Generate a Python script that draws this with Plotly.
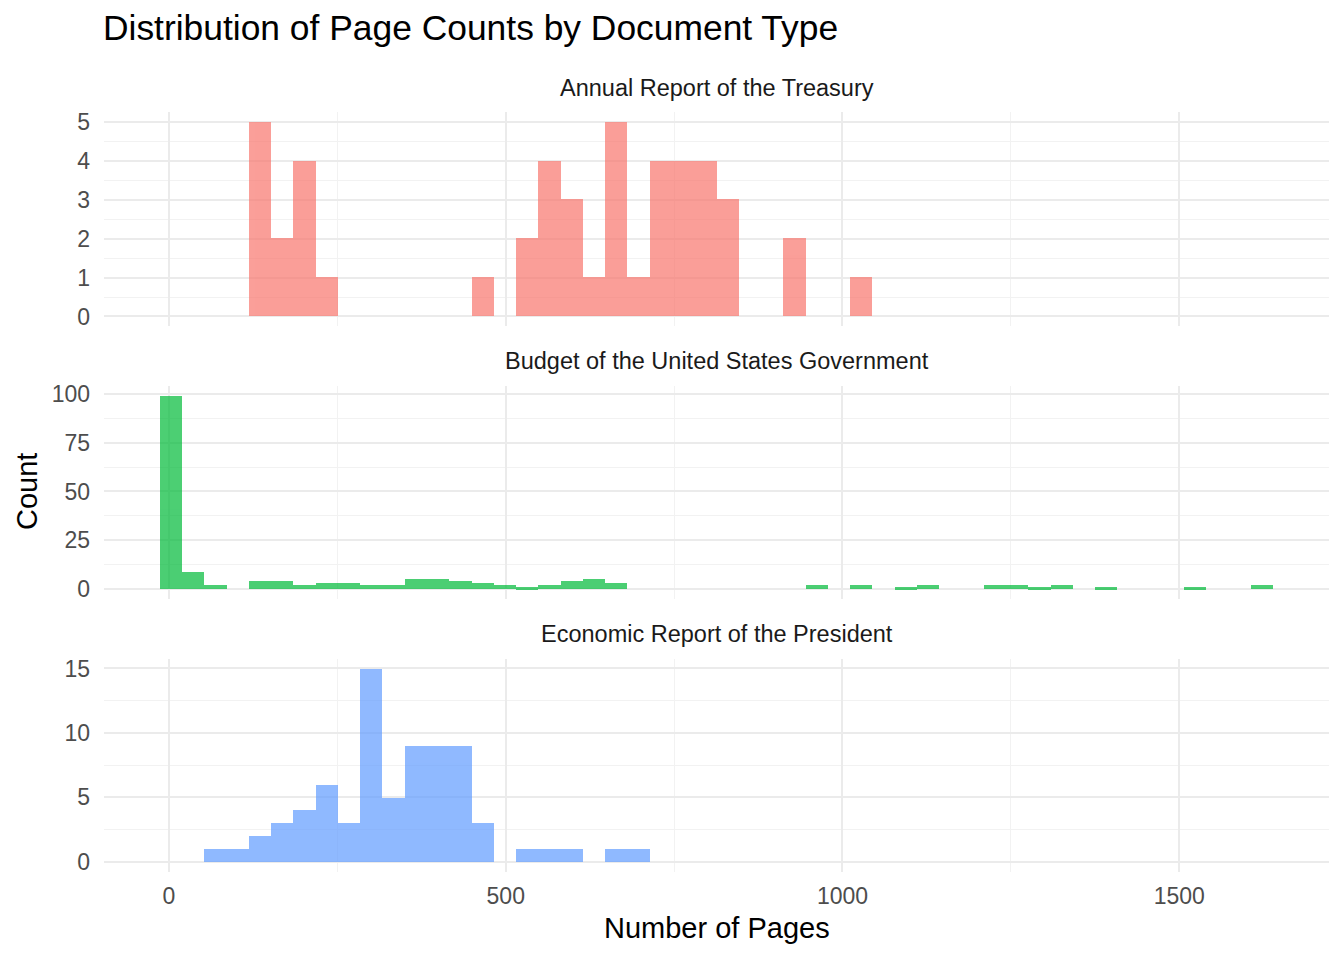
import plotly.graph_objects as go

# ---- data (histogram counts per bin) ----
doc_types = ["Annual Report of the Treasury",
             "Budget of the United States Government",
             "Economic Report of the President"]
bin_start = -13.8      # left edge of the first bin (pages)
bin_width = 33.07      # bin width (pages)

treasury_counts = [0, 0, 0, 0, 5, 2, 4, 1, 0, 0,
                   0, 0, 0, 0, 1, 0, 2, 4, 3, 1,
                   5, 1, 4, 4, 4, 3, 0, 0, 2, 0,
                   0, 1, 0, 0, 0, 0, 0, 0, 0, 0,
                   0, 0, 0, 0, 0, 0, 0, 0, 0, 0]
budget_counts = [99, 9, 2, 0, 4, 4, 2, 3, 3, 2,
                 2, 5, 5, 4, 3, 2, 1, 2, 4, 5,
                 3, 0, 0, 0, 0, 0, 0, 0, 0, 2,
                 0, 2, 0, 1, 2, 0, 0, 2, 2, 1,
                 2, 0, 1, 0, 0, 0, 1, 0, 0, 2]
economic_counts = [0, 0, 1, 1, 2, 3, 4, 6, 3, 15,
                   5, 9, 9, 9, 3, 0, 1, 1, 1, 0,
                   1, 1, 0, 0, 0, 0, 0, 0, 0, 0,
                   0, 0, 0, 0, 0, 0, 0, 0, 0, 0,
                   0, 0, 0, 0, 0, 0, 0, 0, 0, 0]

x_ticks = [0, 500, 1000, 1500]
y_dticks = [1, 25, 5]
colors = ["#F8766D", "#00BA38", "#619CFF"]

all_counts = [treasury_counts, budget_counts, economic_counts]

# ---- layout geometry (page pixels; the page body adds an 8px offset) ----
W, H = 1344, 960
OFF = 8
FONT = "Liberation Sans"
px_left, px_right = 104 - OFF, 1329 - OFF
panels_px = [(108.2 - OFF, 323.8 - OFF),
             (384.2 - OFF, 598.8 - OFF),
             (659.25 - OFF, 873.75 - OFF)]
strip_px = [87, 362, 637]
x_range = [-96.5, 1722.4]


def fy(p):
    return 1 - p / H


fig = go.Figure()

for i, (name, counts, col) in enumerate(zip(doc_types, all_counts, colors)):
    centers = [bin_start + bin_width * (k + 0.5) for k in range(len(counts))]
    ax = "" if i == 0 else str(i + 1)
    fig.add_trace(go.Bar(
        x=centers, y=counts, width=bin_width,
        marker=dict(color=col, line=dict(width=0)),
        opacity=0.7, name=name, showlegend=False,
        xaxis="x" + ax, yaxis="y" + ax,
        hovertemplate=name + "<br>Pages: %{x:.0f}<br>Count: %{y}<extra></extra>",
    ))

layout_axes = {}
annotations = []
for i, (name, counts) in enumerate(zip(doc_types, all_counts)):
    top, bot = panels_px[i]
    ymax = max(counts)
    pad = ymax * 0.05
    ax = "" if i == 0 else str(i + 1)
    layout_axes["xaxis" + ax] = dict(
        domain=[px_left / W, px_right / W], range=x_range,
        anchor="y" + ax, tickmode="array", tickvals=x_ticks,
        ticktext=[str(v) for v in x_ticks],
        showticklabels=(i == 2),
        showgrid=True, gridcolor="#EBEBEB", gridwidth=2.2,
        minor=dict(showgrid=True, gridcolor="#F2F2F2", gridwidth=1.2,
                   tickmode="array", tickvals=[250, 750, 1250]),
        zeroline=False, showline=False, ticks="",
        tickfont=dict(family=FONT, size=23, color="#4D4D4D"),
        ticklabelstandoff=8,
    )
    layout_axes["yaxis" + ax] = dict(
        domain=[fy(bot), fy(top)], range=[-pad, ymax + pad], anchor="x" + ax,
        tick0=0, dtick=y_dticks[i],
        showgrid=True, gridcolor="#EBEBEB", gridwidth=2.2,
        minor=dict(showgrid=True, gridcolor="#F2F2F2", gridwidth=1.2,
                   tick0=y_dticks[i] / 2, dtick=y_dticks[i]),
        zeroline=False, showline=False, ticks="",
        tickfont=dict(family=FONT, size=23, color="#4D4D4D"),
        ticklabelstandoff=13,
    )
    annotations.append(dict(
        text=name, xref="paper", yref="paper",
        x=(px_left + px_right) / 2 / W, y=fy(strip_px[i] - OFF - 3),
        xanchor="center", yanchor="middle", showarrow=False,
        font=dict(family=FONT, size=23.5, color="#1A1A1A"),
    ))

annotations.append(dict(
    text="Number of Pages", xref="paper", yref="paper",
    x=(px_left + px_right) / 2 / W, y=fy(928 - OFF - 5 + 8),
    xanchor="center", yanchor="middle", showarrow=False,
    font=dict(family=FONT, size=29, color="#000000"),
))
annotations.append(dict(
    text="Count", xref="paper", yref="paper",
    x=(27 - OFF) / W, y=fy(491 - OFF),
    textangle=-90,
    xanchor="center", yanchor="middle", showarrow=False,
    font=dict(family=FONT, size=29, color="#000000"),
))
annotations.append(dict(
    text="Distribution of Page Counts by Document Type",
    xref="paper", yref="paper",
    x=(104 - OFF) / W - 0.002, y=fy(28 - 13),
    xanchor="left", yanchor="middle", showarrow=False,
    font=dict(family=FONT, size=35.4, color="#000000"),
))

fig.update_layout(
    width=W, height=H,
    margin=dict(l=0, r=0, t=0, b=0),
    paper_bgcolor="white", plot_bgcolor="white",
    bargap=0, barmode="overlay",
    annotations=annotations,
    **layout_axes,
)

fig.write_html("out.html")
